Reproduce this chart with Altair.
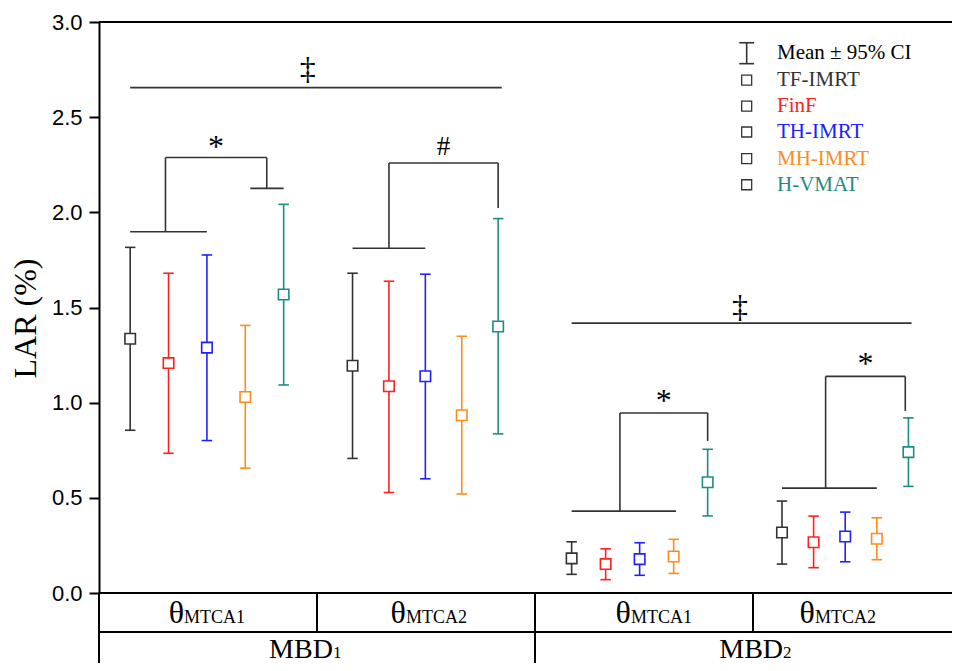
import altair as alt
import pandas as pd

# ---------------- data ----------------
series = ["TF-IMRT", "FinF", "TH-IMRT", "MH-IMRT", "H-VMAT"]
series_colors = ["#333333", "#FF2020", "#2020FF", "#FF8C1A", "#1E8C86"]
groups = ["MBD1-θMTCA1", "MBD1-θMTCA2", "MBD2-θMTCA1", "MBD2-θMTCA2"]

mean_g1 = [1.336, 1.208, 1.289, 1.030, 1.568]
upper_g1 = [1.816, 1.680, 1.776, 1.406, 2.042]
lower_g1 = [0.855, 0.734, 0.801, 0.656, 1.093]

mean_g2 = [1.194, 1.086, 1.139, 0.934, 1.400]
upper_g2 = [1.680, 1.638, 1.675, 1.349, 1.967]
lower_g2 = [0.707, 0.528, 0.600, 0.520, 0.836]

mean_g3 = [0.182, 0.152, 0.178, 0.192, 0.582]
upper_g3 = [0.269, 0.232, 0.264, 0.282, 0.755]
lower_g3 = [0.098, 0.070, 0.093, 0.103, 0.405]

mean_g4 = [0.318, 0.267, 0.297, 0.285, 0.740]
upper_g4 = [0.483, 0.404, 0.425, 0.395, 0.920]
lower_g4 = [0.152, 0.133, 0.164, 0.175, 0.560]

means = [mean_g1, mean_g2, mean_g3, mean_g4]
uppers = [upper_g1, upper_g2, upper_g3, upper_g4]
lowers = [lower_g1, lower_g2, lower_g3, lower_g4]

# significance brackets
brackets = [
    dict(low=1.898, top=2.288, drop=2.126, l0=0, l1=2, stem=0.92, right=3.56, cap=(3.13, 4.0), mark="*", mlev=2.292),
    dict(low=1.811, top=2.259, drop=2.023, l0=0, l1=2, stem=1.0, right=4.0, cap=None, mark="#", mlev=2.300),
    dict(low=0.430, top=0.946, drop=0.799, l0=0, l1=3.07, stem=1.42, right=4.0, cap=None, mark="*", mlev=0.955),
    dict(low=0.551, top=1.138, drop=0.956, l0=0, l1=3.0, stem=1.38, right=3.9, cap=None, mark="*", mlev=1.148),
]
overall_levels = [2.655, 1.418]
overall_mark_levels = [2.70, 1.45]

theta_subs = ["MTCA1", "MTCA2", "MTCA1", "MTCA2"]
mbd_labels = ["MBD", "MBD"]
mbd_digits = ["1", "2"]
y_ticks = [0.0, 0.5, 1.0, 1.5, 2.0, 2.5, 3.0]

# ---------------- layout ----------------
PX = 218.0                    # pixels per cell unit
W = 853
H = 571
XMAX = W / PX
group_center = [0.495, 1.497, 2.480, 3.423]
group_step = [0.176, 0.167, 0.156, 0.145]


def xpos(g, i):
    return group_center[g] + (i - 2) * group_step[g]


rows = []
for g in range(4):
    for i, s in enumerate(series):
        rows.append(dict(group=groups[g], series=s, x=xpos(g, i),
                         mean=means[g][i], lo=lowers[g][i], hi=uppers[g][i]))
df = pd.DataFrame(rows)

xs = alt.Scale(domain=[0, XMAX], nice=False, zero=False)
ys = alt.Scale(domain=[0, 3], nice=False, zero=False)
cs = alt.Scale(domain=series, range=series_colors)

X = lambda f: alt.X(f, type="quantitative", scale=xs, axis=None)

yaxis = alt.Axis(values=y_ticks, format=".1f", grid=False,
                 labelFont="Liberation Sans", labelFontSize=22, labelColor="black",
                 labelPadding=7, tickSize=10, tickWidth=2, tickColor="black",
                 domainColor="black", domainWidth=2,
                 title="LAR (%)", titleFont="Liberation Serif", titleFontSize=32,
                 titleFontWeight="normal", titleColor="black", titleAngle=270,
                 titleX=-64, titleY=296, titleAlign="center", titleBaseline="alphabetic")

bars = alt.Chart(df).mark_rule(strokeWidth=1.6).encode(
    x=X("x"),
    y=alt.Y("lo:Q", scale=ys, axis=yaxis),
    y2="hi:Q",
    color=alt.Color("series:N", scale=cs, legend=None),
)

cap_shape = "M-1,0L1,0"
caps_hi = alt.Chart(df).mark_point(shape=cap_shape, size=110, strokeWidth=1.6,
                                   opacity=1, filled=False).encode(
    x=X("x"), y=alt.Y("hi:Q", scale=ys),
    color=alt.Color("series:N", scale=cs, legend=None))
caps_lo = alt.Chart(df).mark_point(shape=cap_shape, size=110, strokeWidth=1.6,
                                   opacity=1, filled=False).encode(
    x=X("x"), y=alt.Y("lo:Q", scale=ys),
    color=alt.Color("series:N", scale=cs, legend=None))

squares = alt.Chart(df).mark_point(shape="square", size=110, strokeWidth=1.6,
                                   fill="white", filled=False, opacity=1,
                                   fillOpacity=1).encode(
    x=X("x"), y=alt.Y("mean:Q", scale=ys),
    stroke=alt.Stroke("series:N", scale=cs, legend=None))

# --- bracket segments ---
segs = []
texts = []
for g, b in enumerate(brackets):
    segs.append(dict(x=xpos(g, b["l0"]), x2=xpos(g, b["l1"]), y=b["low"], y2=b["low"]))
    segs.append(dict(x=xpos(g, b["stem"]), x2=xpos(g, b["stem"]), y=b["low"], y2=b["top"]))
    segs.append(dict(x=xpos(g, b["stem"]), x2=xpos(g, b["right"]), y=b["top"], y2=b["top"]))
    segs.append(dict(x=xpos(g, b["right"]), x2=xpos(g, b["right"]), y=b["top"], y2=b["drop"]))
    if b["cap"]:
        segs.append(dict(x=xpos(g, b["cap"][0]), x2=xpos(g, b["cap"][1]), y=b["drop"], y2=b["drop"]))
    texts.append(dict(x=(xpos(g, b["stem"]) + xpos(g, b["right"])) / 2, y=b["mlev"], t=b["mark"],
                      k="star" if b["mark"] == "*" else "hash"))

for k in range(2):
    g0, g1 = 2 * k, 2 * k + 1
    segs.append(dict(x=xpos(g0, 0), x2=xpos(g1, 4.1), y=overall_levels[k], y2=overall_levels[k]))
seg_df = pd.DataFrame(segs)
brk = alt.Chart(seg_df).mark_rule(color="#333333", strokeWidth=1.6).encode(
    x=X("x"), x2="x2:Q", y=alt.Y("y:Q", scale=ys), y2="y2:Q")

star_df = pd.DataFrame([t for t in texts if t["k"] == "star"])
hash_df = pd.DataFrame([t for t in texts if t["k"] == "hash"])
stars = alt.Chart(star_df).mark_text(font="Liberation Serif", fontSize=32, color="black",
                                     baseline="alphabetic", align="center").encode(
    x=X("x"), y=alt.Y("y:Q", scale=ys), text="t:N")
hashes = alt.Chart(hash_df).mark_text(font="Liberation Serif", fontSize=27, color="black",
                                      baseline="alphabetic", align="center").encode(
    x=X("x"), y=alt.Y("y:Q", scale=ys), text="t:N")

dag_df = pd.DataFrame([
    dict(x=(xpos(0, 0) + xpos(1, 4)) / 2 - 0.03, y=overall_mark_levels[0], t="‡"),
    dict(x=(xpos(2, 0) + xpos(3, 4)) / 2 + 0.0, y=overall_mark_levels[1], t="‡"),
])
dags = alt.Chart(dag_df).mark_text(font="Liberation Serif", fontSize=32, color="black",
                                   baseline="alphabetic", align="center").encode(
    x=X("x"), y=alt.Y("y:Q", scale=ys), text="t:N")

# --- frame / table lines ---
ROW1 = -0.205
ROW2 = -0.40
frame = pd.DataFrame([
    dict(x=0, x2=XMAX, y=3.0, y2=3.0),
    dict(x=0, x2=XMAX, y=0.0, y2=0.0),
    dict(x=0, x2=XMAX, y=ROW1, y2=ROW1),
    dict(x=0, x2=0, y=0.0, y2=ROW2),
    dict(x=1, x2=1, y=0.0, y2=ROW1),
    dict(x=2, x2=2, y=0.0, y2=ROW2),
    dict(x=3, x2=3, y=0.0, y2=ROW1),
])
frm = alt.Chart(frame).mark_rule(color="black", strokeWidth=2).encode(
    x=X("x"), x2="x2:Q", y=alt.Y("y:Q", scale=ys), y2="y2:Q")

theta_anchor = [0.390, 1.408, 2.440, 3.284]
th_df = pd.DataFrame([dict(x=theta_anchor[c], y=-0.155, t="θ") for c in range(4)])
sub_df = pd.DataFrame([dict(x=theta_anchor[c], y=-0.160, t=theta_subs[c]) for c in range(4)])
th = alt.Chart(th_df).mark_text(font="Liberation Serif", fontSize=32, color="black",
                                align="right", baseline="alphabetic").encode(
    x=X("x"), y=alt.Y("y:Q", scale=ys), text="t:N")
sub = alt.Chart(sub_df).mark_text(font="Liberation Serif", fontSize=18, color="black",
                                  align="left", baseline="alphabetic").encode(
    x=X("x"), y=alt.Y("y:Q", scale=ys), text="t:N")

mbd_anchor = [1.073, 3.138]
mbd_df = pd.DataFrame([dict(x=mbd_anchor[k], y=-0.343, t=mbd_labels[k]) for k in range(2)])
mbdd_df = pd.DataFrame([dict(x=mbd_anchor[k], y=-0.343, t=mbd_digits[k]) for k in range(2)])
mbd = alt.Chart(mbd_df).mark_text(font="Liberation Serif", fontSize=28, color="black",
                                  align="right", baseline="alphabetic").encode(
    x=X("x"), y=alt.Y("y:Q", scale=ys), text="t:N")
mbdd = alt.Chart(mbdd_df).mark_text(font="Liberation Serif", fontSize=17, color="black",
                                    align="left", baseline="alphabetic").encode(
    x=X("x"), y=alt.Y("y:Q", scale=ys), text="t:N")

# --- custom legend ---
LX = 2.971
LTX = 3.110
leg_rows = [2.836, 2.695, 2.558, 2.422, 2.282, 2.145]
leg_icon = pd.DataFrame([dict(x=LX, y=2.781, y2=2.891)])
leg_bar = alt.Chart(leg_icon).mark_rule(color="#333333", strokeWidth=1.6).encode(
    x=X("x"), y=alt.Y("y:Q", scale=ys), y2="y2:Q")
leg_caps_df = pd.DataFrame([dict(x=LX, y=2.781), dict(x=LX, y=2.891)])
leg_caps = alt.Chart(leg_caps_df).mark_point(shape=cap_shape, size=220, strokeWidth=1.6,
                                             color="#333333", opacity=1, filled=False).encode(
    x=X("x"), y=alt.Y("y:Q", scale=ys))
leg_sq_df = pd.DataFrame([dict(x=LX, y=leg_rows[i + 1]) for i in range(5)])
leg_sq = alt.Chart(leg_sq_df).mark_point(shape="square", size=100, strokeWidth=1.3,
                                         color="#333333", fill="white", filled=False,
                                         opacity=1, fillOpacity=1).encode(
    x=X("x"), y=alt.Y("y:Q", scale=ys))
leg_txt_df = pd.DataFrame(
    [dict(x=LTX, y=leg_rows[0], t="Mean ± 95% CI", s="Mean")] +
    [dict(x=LTX, y=leg_rows[i + 1], t=series[i], s=series[i]) for i in range(5)])
leg_txt = alt.Chart(leg_txt_df).mark_text(font="Liberation Serif", fontSize=21,
                                          align="left", baseline="middle").encode(
    x=X("x"), y=alt.Y("y:Q", scale=ys), text="t:N",
    color=alt.Color("s:N", scale=alt.Scale(domain=["Mean"] + series,
                                           range=["#000000"] + series_colors), legend=None))

chart = alt.layer(
    frm, brk, stars, hashes, dags, bars, caps_hi, caps_lo, squares,
    th, sub, mbd, mbdd, leg_bar, leg_caps, leg_sq, leg_txt,
).resolve_scale(color="independent").properties(
    width=W, height=H,
    autosize=alt.AutoSizeParams(type="none"),
    padding={"left": 91, "top": 14, "right": 0, "bottom": 70},
).configure_view(stroke=None).configure(background="white")

chart.save("out.html", embed_options={"renderer": "svg", "actions": False})
